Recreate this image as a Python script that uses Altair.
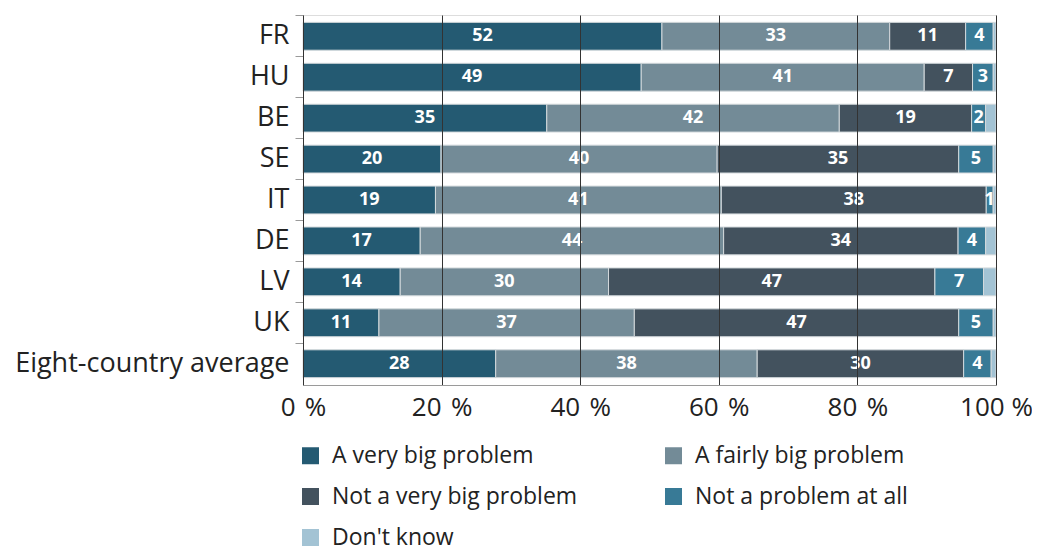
import altair as alt
import pandas as pd

countries = ["FR", "HU", "BE", "SE", "IT", "DE", "LV", "UK", "Eight-country average"]
categories = ["A very big problem", "A fairly big problem", "Not a very big problem",
              "Not a problem at all", "Don't know"]
very_big = [52, 49, 35, 20, 19, 17, 14, 11, 28]
fairly_big = [33, 41, 42, 40, 41, 44, 30, 37, 38]
not_very_big = [11, 7, 19, 35, 38, 34, 47, 47, 30]
not_at_all = [4, 3, 2, 5, 1, 4, 7, 5, 4]
dont_know = [0.4, 0.4, 1.5, 0.4, 0.4, 1.5, 1.8, 0.4, 0.7]
colors = ["#245a72", "#738b97", "#43525e", "#387a96", "#a3c3d4"]
x_ticks = [0, 0.2, 0.4, 0.6, 0.8, 1.0]

series = [very_big, fairly_big, not_very_big, not_at_all, dont_know]
rows = []
for i, c in enumerate(countries):
    vals = [s[i] for s in series]
    tot = sum(vals)
    start = 0.0
    for cat, v in zip(categories, vals):
        rows.append(dict(country=c, category=cat, value=v,
                         start=start / tot, end=(start + v) / tot,
                         mid=(start + v / 2) / tot,
                         label=("" if cat == "Don't know" else str(int(v)))))
        start += v
df = pd.DataFrame(rows)

FONT = "Open Sans"

y = alt.Y("country:N", sort=countries, title=None,
          scale=alt.Scale(paddingInner=0.32, paddingOuter=0.18),
          axis=alt.Axis(domainColor="#9a9a9a", tickColor="#9a9a9a", tickSize=8,
                        labelFontSize=27, labelColor="#222222", labelPadding=6,
                        labelFont=FONT, labelLimit=400, bandPosition=-0.235))

xscale = alt.Scale(domain=[0, 1], nice=False)

bars = alt.Chart(df).mark_bar(stroke="#d3d9dc", strokeWidth=1).encode(
    x=alt.X("start:Q", scale=xscale, title=None,
            axis=alt.Axis(values=x_ticks, grid=True, gridColor="#333333", gridWidth=1,
                          ticks=False, domainColor="#9a9a9a", labelFontSize=26,
                          labelColor="#222222", labelPadding=9, labelFont=FONT,
                          labelFlush=False, zindex=1,
                          labelExpr="datum.value == 1 ? '100 %' : format(round(datum.value*100), 'd') + ' \u200a%'")),
    x2="end:Q",
    y=y,
    color=alt.Color("category:N", scale=alt.Scale(domain=categories, range=colors),
                    legend=alt.Legend(orient="none", legendX=-4, legendY=429, columns=2,
                                      direction="horizontal",
                                      symbolType="square", symbolSize=289,
                                      symbolStrokeWidth=0, labelFontSize=23,
                                      labelColor="#222222", labelFont=FONT, title=None,
                                      labelOffset=10, rowPadding=17, columnPadding=84,
                                      labelLimit=400)),
)

text = alt.Chart(df).transform_filter("datum.label != ''").mark_text(
    color="white", fontWeight="bold", fontSize=18, font=FONT, baseline="middle"
).encode(
    x=alt.X("mid:Q", scale=xscale),
    y=alt.Y("country:N", sort=countries),
    text="label:N",
)

chart = alt.layer(bars, text).properties(
    width=693, height=370,
    autosize=alt.AutoSizeParams(type="none"),
    padding={"left": 295, "top": 7, "right": 36, "bottom": 167},
).configure_view(stroke=None).configure(font=FONT)

chart.save("out.html", embed_options={"renderer": "svg", "actions": False})
